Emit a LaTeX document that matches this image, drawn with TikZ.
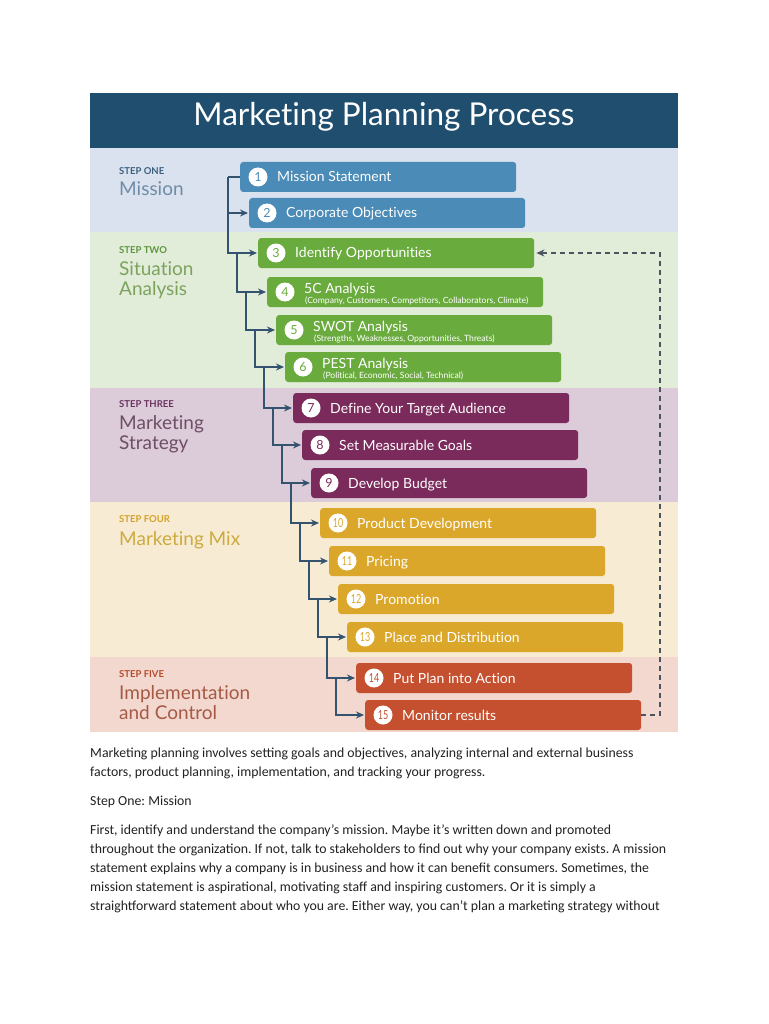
\documentclass[tikz,border=0pt]{standalone}
\usepackage{fontspec}
\usepackage{graphicx}
\setmainfont{Lato}[Ligatures={NoCommon,NoContextual}]
\newfontfamily\bodyfont{Carlito}
\usetikzlibrary{arrows.meta,calc}
\frenchspacing
\definecolor{hdr}{HTML}{1F4E6F}
\definecolor{band1}{HTML}{D9E2EE}
\definecolor{band2}{HTML}{E1ECD9}
\definecolor{band3}{HTML}{DCCBD9}
\definecolor{band4}{HTML}{F8EBD3}
\definecolor{band5}{HTML}{F2D8CF}
\definecolor{bblue}{HTML}{4B8BB7}
\definecolor{bgreen}{HTML}{6AAB3E}
\definecolor{bpurple}{HTML}{7B2A5C}
\definecolor{bgold}{HTML}{DBA72A}
\definecolor{bred}{HTML}{C4502F}
\definecolor{tag1}{HTML}{3D6080}
\definecolor{nam1}{HTML}{6F8CA6}
\definecolor{tag2}{HTML}{5E9640}
\definecolor{nam2}{HTML}{7CA35E}
\definecolor{tag3}{HTML}{6B3460}
\definecolor{nam3}{HTML}{6E4F66}
\definecolor{tag4}{HTML}{D4A22A}
\definecolor{nam4}{HTML}{CBAB3F}
\definecolor{tag5}{HTML}{B34C2E}
\definecolor{nam5}{HTML}{A65A45}
\definecolor{linec}{HTML}{34536F}
\definecolor{dashc}{HTML}{4A5560}
\definecolor{bodyc}{HTML}{222222}
\begin{document}
\begin{tikzpicture}[x=1pt,y=-1pt,
  pbox/.style={rounded corners=3pt, minimum width=276pt, minimum height=30pt, anchor=west, inner sep=0pt},
  numc/.style={circle, fill=white, minimum size=19pt, inner sep=0pt, font=\fontsize{12.5}{12.5}\selectfont},
  btxt/.style={anchor=base west, text=white, font=\fontsize{14}{14}\selectfont, inner sep=0pt},
  stxt/.style={anchor=base west, text=white, font=\fontsize{8.6}{9}\selectfont, inner sep=0pt},
  steptag/.style={anchor=base west, inner sep=0pt, font=\fontsize{9.5}{10}\selectfont\bfseries},
  stepname/.style={anchor=base west, inner sep=0pt, font=\fontsize{19}{20}\selectfont},
  cline/.style={draw=linec, line width=1.3pt},
  carrow/.style={draw=linec, line width=1.3pt, -{Stealth[length=8pt,width=7pt]}, shorten >=1pt},
  fback/.style={draw=dashc, line width=1.2pt, dash pattern=on 5pt off 4pt, -{Stealth[length=8pt,width=7pt]}, shorten >=2pt},
  body/.style={anchor=base west, inner sep=0pt, text=bodyc, font=\bodyfont\fontsize{13.8}{16}\selectfont}
]
\useasboundingbox (0,0) rectangle (768,1024);
\fill[white] (0,0) rectangle (768,1024);
% bands
\fill[hdr] (90,93) rectangle (678,148);
\fill[band1] (90,148) rectangle (678,232);
\fill[band2] (90,232) rectangle (678,388);
\fill[band3] (90,388) rectangle (678,502);
\fill[band4] (90,502) rectangle (678,657);
\fill[band5] (90,657) rectangle (678,732);
\node[text=white, font=\fontsize{31.5}{32}\selectfont, inner sep=0pt] (title) at (384,117) {Marketing Planning Process};
% step labels
\node[steptag, text=tag1] (s1t) at (119,175) {STEP ONE};
\node[stepname, text=nam1] (s1a) at (119,196) {Mission};
\node[steptag, text=tag2] (s2t) at (119,253) {STEP TWO};
\node[stepname, text=nam2] (s2a) at (119,275) {Situation};
\node[stepname, text=nam2] (s2b) at (119,295) {Analysis};
\node[steptag, text=tag3] (s3t) at (119,407) {STEP THREE};
\node[stepname, text=nam3] (s3a) at (119,429) {Marketing};
\node[stepname, text=nam3] (s3b) at (119,449) {Strategy};
\node[steptag, text=tag4] (s4t) at (119,522) {STEP FOUR};
\node[stepname, text=nam4] (s4a) at (119,545) {Marketing Mix};
\node[steptag, text=tag5] (s5t) at (119,677) {STEP FIVE};
\node[stepname, text=nam5] (s5a) at (119,699) {Implementation};
\node[stepname, text=nam5] (s5b) at (119,719) {and Control};
% boxes
\foreach \i/\L/\Y/\c/\t in {1/240/177/bblue/Mission Statement,
  2/249/213/bblue/Corporate Objectives,
  3/258/253/bgreen/Identify Opportunities,
  7/293/408/bpurple/Define Your Target Audience,
  8/302/445/bpurple/Set Measurable Goals,
  9/311/483/bpurple/Develop Budget,
  10/320/523/bgold/Product Development,
  11/329/561/bgold/Pricing,
  12/338/599/bgold/Promotion,
  13/347/637/bgold/Place and Distribution,
  14/356/678/bred/Put Plan into Action,
  15/365/715/bred/Monitor results}{
  \node[pbox, fill=\c] (b\i) at (\L,\Y) {};
  \node[numc, text=\c] (n\i) at (\L+18,\Y) {\ifnum\i>9\scalebox{0.72}[1]{\i}\else\i\fi};
  \node[btxt] (t\i) at (\L+37,\Y+5) {\t};
}
\foreach \i/\L/\Y/\t/\s in {4/267/292/5C Analysis/{(Company, Customers, Competitors, Collaborators, Climate)},
  5/276/330/SWOT Analysis/{(Strengths, Weaknesses, Opportunities, Threats)},
  6/285/367/PEST Analysis/{(Political, Economic, Social, Technical)}}{
  \node[pbox, fill=bgreen] (b\i) at (\L,\Y) {};
  \node[numc, text=bgreen] (n\i) at (\L+18,\Y) {\i};
  \node[btxt] (t\i) at (\L+37,\Y+1) {\t};
  \node[stxt] (u\i) at (\L+38,\Y+11) {\s};
}
% connectors
\coordinate (j2) at (228,177);
\draw[cline] (b1.west) -- (j2);
\draw[carrow] (j2) |- (b2.west);
\draw[carrow] (j2) |- (b3.west);
\foreach \k/\V/\Yp in {4/237/253, 5/246/292, 6/255/330, 7/264/367, 8/273/408, 9/282/445,
  10/291/483, 11/300/523, 12/309/561, 13/318/599, 14/327/637, 15/336/678}{
  \coordinate (j\k) at (\V,\Yp);
  \draw[carrow] (j\k) |- (b\k.west);
}
% feedback loop
\coordinate (fb) at (660,715);
\draw[fback] (b15.east) -- (fb) |- (b3.east);
% body text
\node[body] (p1) at (90,757) {Marketing planning involves setting goals and objectives, analyzing internal and external business};
\node[body] (p2) at (90,776) {factors, product planning, implementation, and tracking your progress.};
\node[body] (p3) at (90,805) {Step One: Mission};
\node[body] (p4) at (90,834) {First, identify and understand the company’s mission. Maybe it’s written down and promoted};
\node[body] (p5) at (90,853) {throughout the organization. If not, talk to stakeholders to find out why your company exists. A mission};
\node[body] (p6) at (90,872) {statement explains why a company is in business and how it can benefit consumers. Sometimes, the};
\node[body] (p7) at (90,891) {mission statement is aspirational, motivating staff and inspiring customers. Or it is simply a};
\node[body] (p8) at (90,910) {straightforward statement about who you are. Either way, you can’t plan a marketing strategy without};
\end{tikzpicture}
\end{document}
